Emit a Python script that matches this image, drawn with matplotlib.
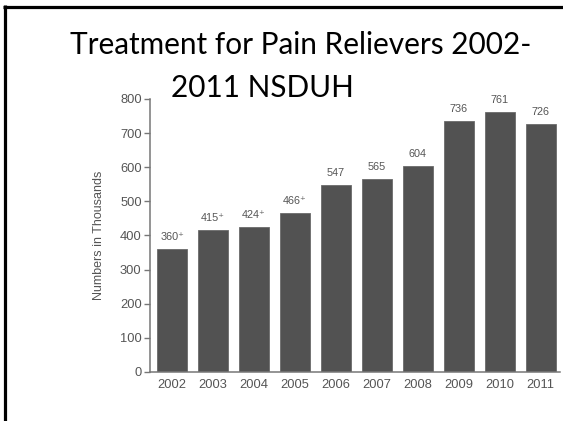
import matplotlib.pyplot as plt
from matplotlib.lines import Line2D

years = ["2002", "2003", "2004", "2005", "2006", "2007", "2008", "2009", "2010", "2011"]
values = [360, 415, 424, 466, 547, 565, 604, 736, 761, 726]
value_labels = ["360\u207a", "415\u207a", "424\u207a", "466\u207a", "547", "565", "604", "736", "761", "726"]
y_ticks = [0, 100, 200, 300, 400, 500, 600, 700, 800]

W, H = 563, 421
fig = plt.figure(figsize=(W / 100, H / 100), dpi=100)

# slide frame (top and left edges only)
fig.add_artist(Line2D([4.5 / W, 4.5 / W], [0, 1 - 5 / H], transform=fig.transFigure,
                      color="black", lw=2.3, solid_capstyle="butt"))
fig.add_artist(Line2D([3 / W, 1], [1 - 6.5 / H, 1 - 6.5 / H], transform=fig.transFigure,
                      color="black", lw=2.3, solid_capstyle="butt"))

# title
fig.text(301 / W, 1 - 45 / H, "Treatment for Pain Relievers 2002-", ha="center", va="center",
         fontsize=21.4, family="Lato", color="black")
fig.text(262 / W, 1 - 88 / H, "2011 NSDUH", ha="center", va="center",
         fontsize=21.4, family="Lato", color="black")

ax = fig.add_axes([150 / W, 1 - 372 / H, 410 / W, 273 / H])
x = range(len(years))
bars = ax.bar(x, values, width=0.73, color="#525252", edgecolor="#6a6a6a", linewidth=0.6)

for xi, v, lab in zip(x, values, value_labels):
    ax.annotate(lab, (xi, v), xytext=(0, 5), textcoords="offset points",
                ha="center", va="bottom", fontsize=7.8, color="#555555",
                family=["Liberation Sans", "DejaVu Sans"])

ax.set_xlim(-0.54, 9.47)
ax.set_ylim(0, 800)
ax.set_xticks(list(x))
ax.set_xticklabels(years)
ax.set_yticks(y_ticks)
ax.tick_params(axis="x", length=0, pad=5, labelsize=9.3, labelcolor="#555555")
ax.tick_params(axis="y", length=4, width=1, color="#777777", pad=2,
               labelsize=9.3, labelcolor="#555555")
for lab in ax.get_xticklabels() + ax.get_yticklabels():
    lab.set_family("Liberation Sans")

ax.spines["top"].set_visible(False)
ax.spines["right"].set_visible(False)
ax.spines["left"].set_color("#777777")
ax.spines["bottom"].set_color("#777777")
ax.spines["left"].set_linewidth(1.1)
ax.spines["bottom"].set_linewidth(1.1)

ax.set_ylabel("Numbers in Thousands", fontsize=9, color="#555555",
              family="Liberation Sans", labelpad=11)

fig.savefig("out.png", dpi=100)
